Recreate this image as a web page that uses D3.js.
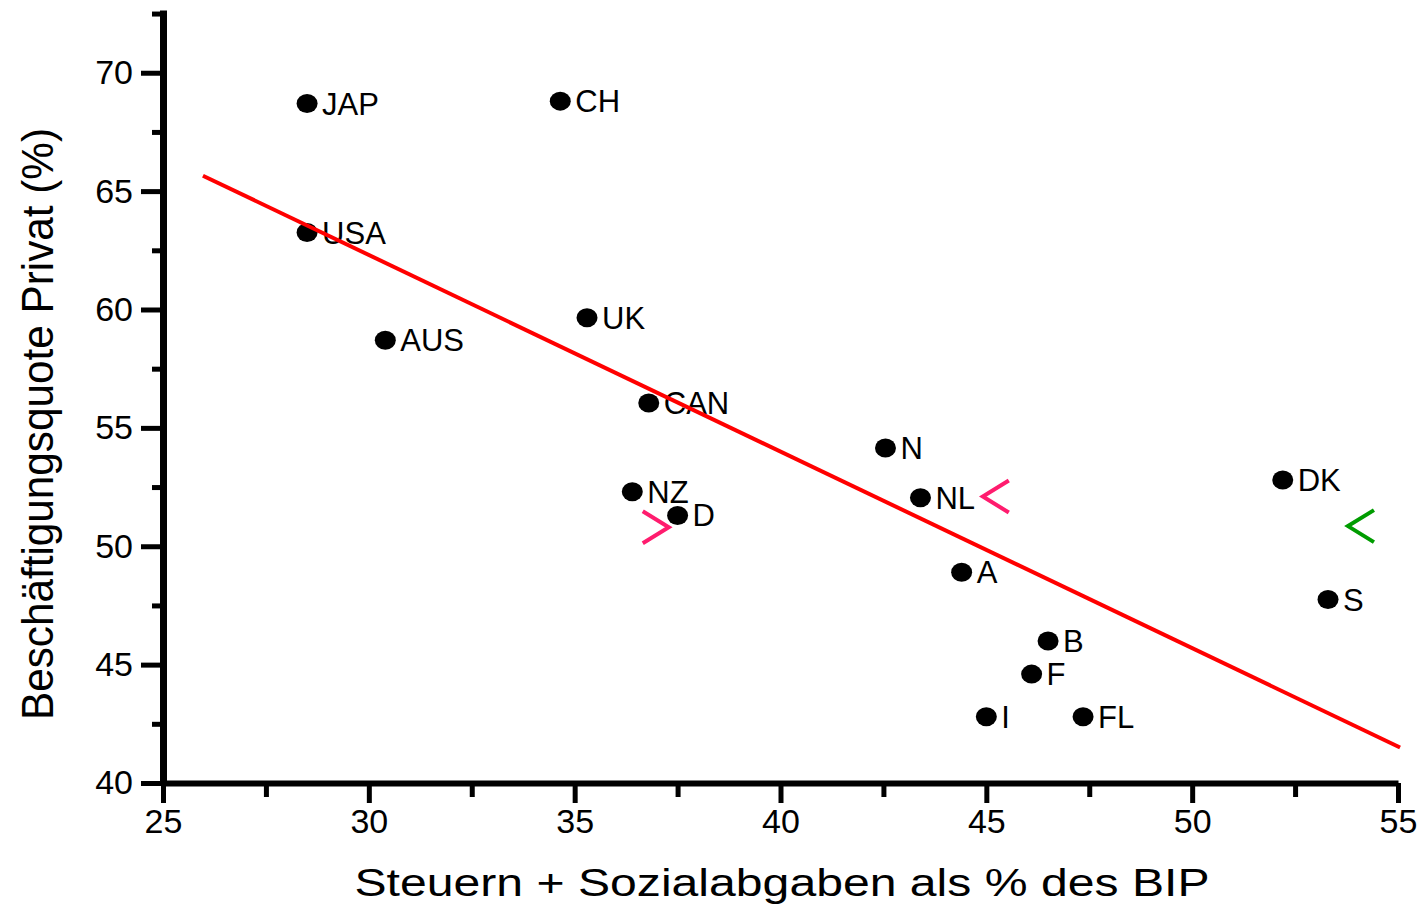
<!DOCTYPE html>
<meta charset="utf-8">
<style>
  body { margin: 0; background: #fff; }
  text { font-family: "Liberation Sans", Arial, sans-serif; fill: #000; }
</style>
<div id="chart"></div>
<script src="https://d3js.org/d3.v7.min.js"></script>
<script>

// countries (labels), x = taxes + social security as % of GDP, y = private employment rate
var countries = ["JAP", "CH", "USA", "UK", "AUS", "CAN", "N", "NZ", "D", "NL", "A", "DK", "S", "B", "F", "I", "FL"];
var taxShare  = [28.5, 34.65, 28.5, 35.3, 30.4, 36.8, 42.55, 36.4, 37.5, 43.4, 44.4, 52.2, 53.3, 46.5, 46.1, 45.0, 47.35];
var employment = [68.7, 68.8, 63.25, 59.65, 58.7, 56.05, 54.15, 52.3, 51.3, 52.05, 48.9, 52.8, 47.75, 46.0, 44.6, 42.8, 42.8];

// regression line end points
var trendX = [25.97, 55.05];
var trendY = [65.65, 41.5];

// annotation arrows ("<" / ">")
var markX = [36.97, 45.23, 54.1];
var markY = [50.8, 52.1, 50.85];
var markDir = [">", "<", "<"];
var markColor = ["#ff1c6e", "#ff1c6e", "#009c00"];

var xTicks = [25, 30, 35, 40, 45, 50, 55];
var xMinor = [27.5, 32.5, 37.5, 42.5, 47.5, 52.5];
var yTicks = [40, 45, 50, 55, 60, 65, 70];
var yMinor = [42.5, 47.5, 52.5, 57.5, 62.5, 67.5, 72.5];

var width = 1420, height = 907;

var svg = d3.select("#chart")
  .append("svg")
    .attr("width", width)
    .attr("height", height);

var x = d3.scaleLinear().domain([25, 55]).range([163, 1398]);
var y = d3.scaleLinear().domain([40, 72.65]).range([783, 10]);

// minor ticks
svg.append("g")
    .attr("transform", "translate(0," + y(40) + ")")
    .call(d3.axisBottom(x).tickValues(xMinor).tickSize(14).tickSizeOuter(0).tickFormat(""))
    .call(function(g) { g.select(".domain").remove(); })
    .selectAll("line").attr("stroke-width", 5);
svg.append("g")
    .attr("transform", "translate(" + x(25) + ",0)")
    .call(d3.axisLeft(y).tickValues(yMinor).tickSize(11).tickSizeOuter(0).tickFormat(""))
    .call(function(g) { g.select(".domain").remove(); })
    .selectAll("line").attr("stroke-width", 5);

// major ticks + labels
var gx = svg.append("g")
    .attr("transform", "translate(0," + y(40) + ")")
    .call(d3.axisBottom(x).tickValues(xTicks).tickSize(20).tickSizeOuter(0).tickPadding(6));
gx.select(".domain").attr("stroke-width", 6);
gx.selectAll(".tick line").attr("stroke-width", 5);
gx.selectAll(".tick text")
    .attr("font-size", 34)
    .attr("font-family", "Liberation Sans, Arial, sans-serif")
    .attr("fill", "#000");

var gy = svg.append("g")
    .attr("transform", "translate(" + x(25) + ",0)")
    .call(d3.axisLeft(y).tickValues(yTicks).tickSize(22).tickSizeOuter(0).tickPadding(8));
gy.select(".domain").attr("stroke-width", 7);
gy.selectAll(".tick line").attr("stroke-width", 5);
gy.selectAll(".tick text")
    .attr("font-size", 34)
    .attr("font-family", "Liberation Sans, Arial, sans-serif")
    .attr("fill", "#000");

// axis titles
svg.append("text")
    .attr("x", 782)
    .attr("y", 896)
    .attr("text-anchor", "middle")
    .attr("font-size", 38)
    .attr("textLength", 855)
    .attr("lengthAdjust", "spacingAndGlyphs")
    .text("Steuern + Sozialabgaben als % des BIP");

svg.append("text")
    .attr("transform", "translate(53,424) rotate(-90)")
    .attr("text-anchor", "middle")
    .attr("font-size", 45)
    .attr("textLength", 592)
    .attr("lengthAdjust", "spacingAndGlyphs")
    .text("Beschäftigungsquote Privat (%)");

// points
var pts = countries.map(function(c, i) { return {name: c, x: taxShare[i], y: employment[i]}; });

svg.selectAll(".dot")
  .data(pts)
  .enter()
  .append("ellipse")
    .attr("class", "dot")
    .attr("cx", function(d) { return x(d.x); })
    .attr("cy", function(d) { return y(d.y); })
    .attr("rx", 10.5)
    .attr("ry", 9.5)
    .attr("fill", "#000");

svg.selectAll(".lbl")
  .data(pts)
  .enter()
  .append("text")
    .attr("class", "lbl")
    .attr("x", function(d) { return x(d.x) + 15; })
    .attr("y", function(d) { return y(d.y) + 11; })
    .attr("font-size", 31)
    .text(function(d) { return d.name; });

// regression line (drawn over the points)
svg.append("line")
    .attr("x1", x(trendX[0]))
    .attr("y1", y(trendY[0]))
    .attr("x2", x(trendX[1]))
    .attr("y2", y(trendY[1]))
    .attr("stroke", "#ff0000")
    .attr("stroke-width", 4);

// arrow marks
markX.forEach(function(mx, i) {
  var cx = x(mx), cy = y(markY[i]);
  var s = markDir[i] === ">" ? 1 : -1;
  svg.append("path")
      .attr("d", "M" + (cx - 13 * s) + "," + (cy - 16) +
                 "L" + (cx + 13 * s) + "," + cy +
                 "L" + (cx - 13 * s) + "," + (cy + 16))
      .attr("fill", "none")
      .attr("stroke", markColor[i])
      .attr("stroke-width", 4);
});

</script>
